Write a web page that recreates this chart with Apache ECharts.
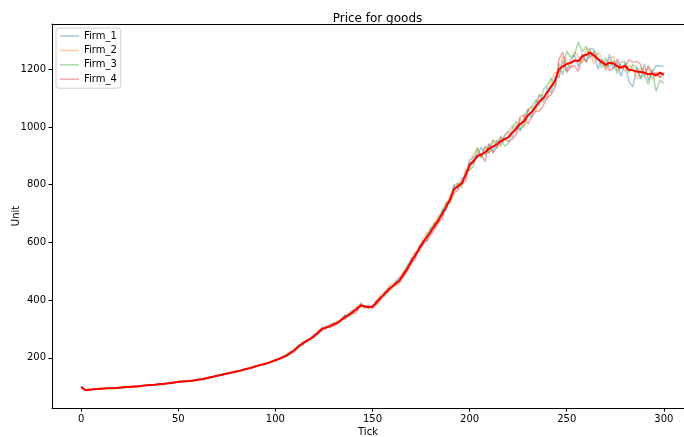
<!DOCTYPE html>
<html>
<head>
<meta charset="utf-8">
<script src="https://cdn.jsdelivr.net/npm/echarts@6/dist/echarts.min.js"></script>
<style>html,body{margin:0;padding:0;background:#fff}#c{width:684px;height:437px}</style>
</head>
<body>
<div id="c"></div>
<script>
// ticks sampled every 2 steps: 0,2,...,300
const ticks = [];
for (let t = 0; t <= 300; t += 2) ticks.push(t);

const seriesNames = ['Firm_1', 'Firm_2', 'Firm_3', 'Firm_4'];
const xTickValues = [0, 50, 100, 150, 200, 250, 300];
const yTickValues = [200, 400, 600, 800, 1000, 1200];

const firm1 = [
101,88,91,90,93,92,95,96,94,97,
98,97,100,101,100,103,105,104,107,108,
110,109,112,114,114,118,117,120,121,121,
125,127,128,133,136,137,142,146,146,151,
155,155,162,162,168,173,174,180,181,189,
194,195,207,207,223,227,246,246,261,267,
281,284,306,302,312,321,318,335,350,348,
366,367,386,376,379,373,400,402,424,441,
443,466,480,484,515,547,547,588,606,606,
648,650,684,715,710,758,797,785,823,829,
885,897,900,930,902,943,912,955,938,968,
985,962,1007,985,1035,1062,1032,1080,1113,1085,
1138,1118,1175,1170,1230,1193,1234,1248,1208,1255,
1225,1273,1268,1200,1235,1200,1252,1200,1225,1175,
1222,1158,1138,1207,1165,1218,1162,1190,1213,1210,
1210];

const firm2 = [
99,90,89,92,91,94,93,96,95,97,
96,99,98,101,102,101,103,106,105,108,
108,111,110,114,116,116,119,120,119,123,
123,127,130,131,134,139,140,145,148,149,
152,157,159,165,166,172,176,177,183,186,
191,200,201,215,214,234,237,255,254,268,
273,294,304,300,318,313,328,330,337,357,
365,378,376,383,373,379,398,417,416,443,
459,453,478,500,502,541,569,572,610,633,
628,670,693,692,734,764,773,810,799,855,
847,905,925,893,934,910,950,950,930,973,
983,1005,980,1030,998,1055,1072,1052,1110,1110,
1095,1160,1190,1175,1245,1228,1202,1260,1243,1220,
1270,1268,1218,1260,1240,1195,1234,1245,1195,1215,
1192,1213,1206,1167,1208,1178,1207,1165,1190,1173,
1170];

const firm3 = [
100,89,90,91,92,93,94,94,96,96,
97,98,98,100,101,102,103,105,106,107,
108,110,111,112,115,117,118,119,121,122,
124,125,129,132,134,138,141,144,147,150,
152,156,159,163,166,170,174,179,182,186,
193,196,200,212,213,231,234,254,256,263,
270,292,292,311,305,320,325,326,347,342,
356,376,376,381,371,383,385,412,412,430,
439,464,460,495,522,525,563,566,592,628,
650,668,666,710,739,740,800,803,790,845,
850,865,930,893,932,907,957,925,970,933,
943,995,1020,990,1005,1060,1067,1095,1073,1130,
1145,1170,1140,1220,1180,1263,1242,1250,1295,1260,
1280,1238,1263,1245,1205,1240,1207,1230,1185,1225,
1227,1188,1216,1207,1170,1178,1147,1200,1123,1163,
1150];

const firm4 = [
100,88,90,91,92,93,94,95,95,96,
97,98,99,100,101,102,104,105,106,107,
109,110,111,113,115,117,118,119,120,122,
124,126,129,132,135,138,141,144,147,150,
153,156,160,163,167,171,175,178,182,187,
190,197,205,206,222,220,243,245,261,266,
280,282,298,307,305,310,317,337,334,353,
353,359,390,372,381,373,385,397,428,426,
447,449,462,481,501,527,541,586,592,605,
626,644,669,683,735,738,770,782,808,811,
878,873,905,904,880,940,909,930,962,958,
949,958,973,1035,1042,1010,1037,1053,1056,1075,
1102,1112,1135,1235,1260,1188,1210,1212,1193,1245,
1225,1253,1243,1235,1220,1225,1195,1205,1235,1205,
1207,1233,1224,1227,1217,1178,1212,1185,1186,1170,
1190];

const meanPrice = [
100,89,90,91,92,93,94,95,95,96,
97,98,99,100,101,102,104,105,106,107,
109,110,111,113,115,117,118,119,120,122,
124,126,129,132,135,138,141,144,147,150,
153,156,160,163,167,171,175,178,182,187,
192,197,203,210,218,228,240,250,258,266,
276,288,300,305,310,316,322,332,342,350,
360,370,382,378,376,377,392,407,420,435,
447,458,470,490,510,535,555,578,600,618,
638,658,678,700,724,750,785,795,805,835,
868,882,898,905,912,925,932,940,950,958,
965,980,995,1010,1020,1040,1052,1070,1088,1100,
1120,1140,1160,1200,1210,1218,1222,1230,1228,1245,
1250,1258,1248,1235,1225,1215,1222,1220,1210,1205,
1212,1198,1196,1192,1190,1188,1182,1185,1178,1188,
1180];

const firms = [firm1, firm2, firm3, firm4];
const firmColors = ['rgba(31,119,180,0.4)', 'rgba(255,127,14,0.4)', 'rgba(44,160,44,0.4)', 'rgba(214,39,40,0.4)'];

const FONT = 'DejaVu Sans';
const chart = echarts.init(document.getElementById('c'), null, {renderer: 'canvas'});

const series = firms.map((arr, k) => ({
  name: seriesNames[k], type: 'line', xAxisIndex: 0, yAxisIndex: 0,
  data: ticks.map((t, i) => [t, arr[i]]),
  showSymbol: false, symbol: 'none', animation: false,
  color: firmColors[k],
  lineStyle: {width: 1.5, color: firmColors[k]},
  z: 2 + k
}));
series.push({
  name: 'mean', type: 'line', xAxisIndex: 0, yAxisIndex: 0,
  data: ticks.map((t, i) => [t, meanPrice[i]]),
  showSymbol: false, symbol: 'none', animation: false,
  color: '#ff0000', lineStyle: {width: 2, color: '#ff0000'}, z: 10
});

const plain = v => String(v);
const frameAxis = {axisTick: {show: false}, axisLabel: {show: false}, splitLine: {show: false}};
// px per tick unit is 1.9424; the frame spans -15..315 in data units but the canvas ends at 684 px
const xFrameMax = -15 + 632 / 1.9424;

const option = {
  backgroundColor: '#fff',
  animation: false,
  title: {
    text: 'Price for goods', left: 372.5, top: 8, textAlign: 'center',
    textStyle: {fontFamily: FONT, fontSize: 12, fontWeight: 'normal', color: '#000'}
  },
  legend: {
    data: seriesNames, orient: 'vertical', left: 56, top: 28,
    icon: 'rect', itemWidth: 19, itemHeight: 1.5, itemGap: 2.4, itemStyle: {opacity: 1},
    padding: [2, 4, 3, 4],
    backgroundColor: 'rgba(255,255,255,0.8)', borderColor: '#d0d0d0', borderWidth: 1, borderRadius: 3,
    textStyle: {fontFamily: FONT, fontSize: 10, color: '#000', lineHeight: 12},
    selectedMode: false
  },
  grid: [
    {left: 52, top: 24, right: 0, height: 384, show: false, containLabel: false, outerBoundsMode: 'none'},
    {left: 81.14, top: 69.2, width: 582.7, height: 288.7, show: false, containLabel: false, outerBoundsMode: 'none'}
  ],
  xAxis: [
    Object.assign({gridIndex: 0, type: 'value', min: -15, max: xFrameMax, position: 'bottom',
     axisLine: {show: true, onZero: false, lineStyle: {color: '#000', width: 1}},
     name: 'Tick', nameLocation: 'middle', nameGap: 19, nameTextStyle: {fontFamily: FONT, fontSize: 10, color: '#000'}}, frameAxis),
    Object.assign({gridIndex: 0, type: 'value', min: -15, max: xFrameMax, position: 'top',
     axisLine: {show: true, onZero: false, lineStyle: {color: '#000', width: 1}}}, frameAxis),
    {gridIndex: 1, type: 'value', min: xTickValues[0], max: xTickValues[xTickValues.length - 1], interval: 50, offset: 50.1,
     axisLine: {show: false, onZero: false}, axisTick: {show: true, length: 3.5, lineStyle: {color: '#000', width: 1}},
     axisLabel: {show: true, margin: 6, fontFamily: FONT, fontSize: 10, color: '#000', formatter: plain, showMinLabel: true, showMaxLabel: true},
     splitLine: {show: false}}
  ],
  yAxis: [
    Object.assign({gridIndex: 0, type: 'value', min: 26.5, max: 1356.5,
     axisLine: {show: true, onZero: false, lineStyle: {color: '#000', width: 1}},
     name: 'Unit', nameLocation: 'middle', nameGap: 31, nameRotate: 90, nameTextStyle: {fontFamily: FONT, fontSize: 10, color: '#000'}}, frameAxis),
    {gridIndex: 1, type: 'value', min: yTickValues[0], max: yTickValues[yTickValues.length - 1], interval: 200, offset: 29.14,
     axisLine: {show: false, onZero: false}, axisTick: {show: true, length: 3.5, lineStyle: {color: '#000', width: 1}},
     axisLabel: {show: true, margin: 6, fontFamily: FONT, fontSize: 10, color: '#000', formatter: plain, showMinLabel: true, showMaxLabel: true},
     splitLine: {show: false}}
  ],
  series: series
};
chart.setOption(option);
</script>
</body>
</html>
